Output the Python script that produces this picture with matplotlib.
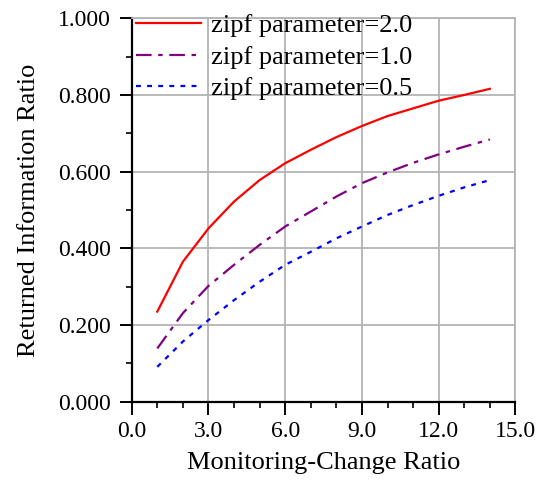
#!/usr/bin/env python3

import matplotlib
matplotlib.use("Agg")
import matplotlib.pyplot as plt
from matplotlib.ticker import MultipleLocator, FormatStrFormatter

x = [1, 2, 3, 4, 5, 6, 7, 8, 9, 10, 11, 12, 13, 14]
zipf_20 = [0.235, 0.365, 0.452, 0.522, 0.578, 0.622, 0.657, 0.690,
           0.719, 0.745, 0.765, 0.785, 0.800, 0.816]
zipf_10 = [0.139, 0.231, 0.302, 0.357, 0.409, 0.457, 0.496, 0.535,
           0.570, 0.598, 0.623, 0.645, 0.665, 0.684]
zipf_05 = [0.091, 0.157, 0.213, 0.265, 0.313, 0.357, 0.391, 0.426,
           0.457, 0.487, 0.513, 0.537, 0.559, 0.578]
labels = ["zipf parameter=2.0", "zipf parameter=1.0", "zipf parameter=0.5"]

plt.rcParams["font.family"] = ["Liberation Serif", "DejaVu Serif"]

fig = plt.figure(figsize=(5.42, 4.8), dpi=100)
ax = fig.add_axes([0.243, 0.163, 0.708, 0.799])

ax.plot(x, zipf_20, color="red", lw=1.6, ls="-", label=labels[0])
ax.plot(x, zipf_10, color="purple", lw=1.6, ls=(0, (7, 3, 2, 3)), label=labels[1])
ax.plot(x, zipf_05, color="blue", lw=1.6, ls=(0, (2.2, 2.8)), label=labels[2])

ax.set_xlim(0, 15)
ax.set_ylim(0, 1.0)
ax.xaxis.set_major_locator(MultipleLocator(3))
ax.xaxis.set_minor_locator(MultipleLocator(1))
ax.yaxis.set_major_locator(MultipleLocator(0.2))
ax.yaxis.set_minor_locator(MultipleLocator(0.1))
ax.xaxis.set_major_formatter(FormatStrFormatter("%.1f"))
ax.yaxis.set_major_formatter(FormatStrFormatter("%.3f"))

ax.grid(True, which="major", color="#b4b4b4", lw=1.3)
ax.set_axisbelow(True)
for s in ["top", "right"]:
    ax.spines[s].set_color("#b4b4b4")
    ax.spines[s].set_linewidth(1.3)
for s in ["bottom", "left"]:
    ax.spines[s].set_linewidth(1.6)

ax.tick_params(which="major", direction="out", length=9, width=1.4, labelsize=17)
ax.tick_params(axis="x", which="major", pad=5)
ax.tick_params(axis="y", which="major", pad=6)
ax.tick_params(which="minor", direction="out", length=4, width=1.2)

ax.set_xlabel("Monitoring-Change Ratio", fontsize=19, labelpad=7)
ax.set_ylabel("Returned Information Ratio", fontsize=19, labelpad=13)

ax.legend(loc="upper left", bbox_to_anchor=(0.011, 1.011), frameon=False,
          fontsize=19, handlelength=2.46, handletextpad=0.38, labelspacing=0.3,
          borderaxespad=0, borderpad=0)

fig.savefig("out.png", dpi=100)
